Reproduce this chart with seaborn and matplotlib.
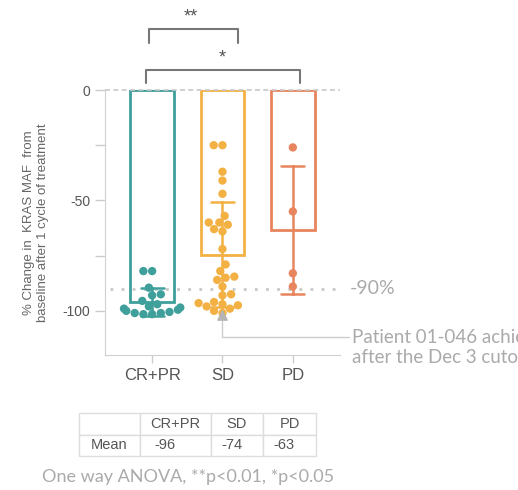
import pandas as pd
import matplotlib.pyplot as plt
import seaborn as sns

sns.set_style("ticks")
plt.rcParams["font.family"] = ["Liberation Sans", "DejaVu Sans"]

groups = ["CR+PR", "SD", "PD"]
colors = ["#3e9f9b", "#f3b144", "#e8855f"]

cr_pr = [-82, -82, -89.5, -92.5, -93, -95.5, -97, -98, -98.5, -99, -99.5,
         -100, -100.5, -101, -101.5, -101, -101.5]
sd = [-25, -25, -37, -41, -47, -57, -60, -60, -61, -63, -64, -72, -79, -82,
      -84.5, -85, -86, -89, -92.5, -93, -96, -96.5, -97, -97.5, -98, -99, -100, -101]
pd_vals = [-26, -55, -83, -89]

table_cols = ["", "CR+PR", "SD", "PD"]
table_row = ["Mean", "-96", "-74", "-63"]

df = pd.DataFrame({
    "group": ["CR+PR"] * len(cr_pr) + ["SD"] * len(sd) + ["PD"] * len(pd_vals),
    "value": cr_pr + sd + pd_vals,
})

fig = plt.figure(figsize=(5.18, 4.9), dpi=100)
ax = fig.add_axes([0.2027, 0.2755, 0.4536, 0.5408])

for g, c in zip(groups, colors):
    sns.barplot(data=df[df["group"] == g], x="group", y="value", order=groups,
                fill=False, color=c, linewidth=2, width=0.62,
                errorbar="sd", capsize=0.33,
                err_kws={"color": c, "linewidth": 1.8}, ax=ax)

sns.swarmplot(data=df, x="group", y="value", order=groups, hue="group",
              hue_order=groups, palette=colors, size=6, legend=False,
              zorder=5, ax=ax)

ax.set_xlim(-0.67, 2.67)
ax.set_ylim(-120, 0)
ax.set_yticks([0, -25, -50, -75, -100])
ax.set_yticklabels(["0", "", "-50", "", "-100"])
ax.tick_params(axis="both", colors="#cccccc", length=7, width=1,
               labelcolor="#555555")
ax.tick_params(axis="y", labelsize=10)
ax.tick_params(axis="x", labelsize=12, length=6)
for s in ["left", "bottom"]:
    ax.spines[s].set_color("#d0d0d0")
for s in ["top", "right"]:
    ax.spines[s].set_visible(False)
ax.set_xlabel("")
ax.set_ylabel("% Change in  KRAS MAF  from\nbaseline after 1 cycle of treatment",
              fontsize=9.5, color="#666666", labelpad=10)

# zero line and -90% threshold
ax.axhline(0, color="#c8c8c8", linestyle=(0, (3, 2)), linewidth=1.2,
           clip_on=False, zorder=6)
ax.plot([-0.6, 2.67], [-90, -90], color="#c8c8c8", linestyle=(0, (1, 3)),
        linewidth=2, zorder=1)
ax.text(2.81, -90, "-90%", fontsize=14, color="#aaaaaa", va="center",
        family=["Lato", "DejaVu Sans"])

# annotation for patient 01-046 (runs off the right edge, as in the original)
ax.scatter([1], [-102], marker="^", s=45, color="#b5b5b5", zorder=6,
           clip_on=False)
ax.plot([1, 1, 2.8], [-104.5, -112, -112], color="#cccccc", linewidth=1,
        clip_on=False)
ax.text(2.84, -112, "Patient 01-046 achieved", fontsize=13.5, color="#aaaaaa",
        va="center", family=["Lato", "DejaVu Sans"], clip_on=False)
ax.text(2.84, -121, "after the Dec 3 cutoff", fontsize=13.5, color="#aaaaaa",
        va="center", family=["Lato", "DejaVu Sans"], clip_on=False)

# significance brackets
ax.plot([-0.04, -0.04, 1.22, 1.22], [21.3, 27.6, 27.6, 21.3],
        color="#777777", linewidth=1.5, clip_on=False)
ax.text(0.55, 33, "**", ha="center", va="center", fontsize=13,
        color="#555555", clip_on=False)
ax.plot([-0.09, -0.09, 2.1, 2.1], [3.2, 9, 9, 3.2],
        color="#777777", linewidth=1.5, clip_on=False)
ax.text(0.99, 14.5, "*", ha="center", va="center", fontsize=13,
        color="#555555", clip_on=False)

# mean table
tax = fig.add_axes([0, 0, 1, 1])
tax.axis("off")
tbl = tax.table(cellText=[table_cols, table_row], cellLoc="left",
                colWidths=[0.257, 0.300, 0.219, 0.224],
                bbox=[0.1525, 0.069, 0.4575, 0.088])
tbl.auto_set_font_size(False)
for (r, col), cell in tbl.get_celld().items():
    cell.set_edgecolor("#dddddd")
    cell.set_linewidth(1)
    cell.PAD = 0.2
    cell.set_text_props(color="#555555", fontsize=10.5)
    if r == 0 and col > 0:
        cell.set_text_props(ha="center")

fig.text(0.081, 0.0265, "One way ANOVA, **p<0.01, *p<0.05", fontsize=13,
         color="#aaaaaa", va="center", family=["Lato", "DejaVu Sans"])

fig.savefig("out.png", dpi=100, facecolor="white")
